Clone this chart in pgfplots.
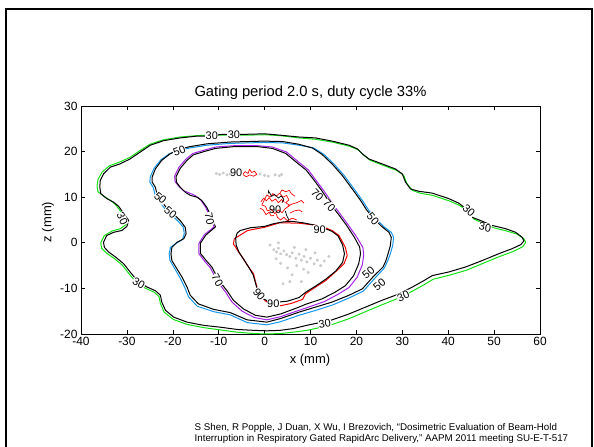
\documentclass[border=0pt]{standalone}
\usepackage{fontspec}
\setmainfont{Liberation Sans}
\usepackage{pgfplots}
\pgfplotsset{compat=1.18}
\definecolor{mgreen}{RGB}{20,225,20}
\definecolor{mblue}{RGB}{20,150,235}
\definecolor{mpurple}{RGB}{165,35,230}
\definecolor{mred}{RGB}{245,0,0}
\definecolor{mdot}{RGB}{205,205,205}
\begin{document}
\begin{tikzpicture}
\path[use as bounding box] (0bp,0bp) rectangle (594bp,447bp);
\draw[line width=2.2bp] (6bp,-5bp) -- (6bp,438bp) -- (592bp,438bp) -- (592bp,-5bp);
\begin{axis}[
  at={(81bp,113bp)}, anchor=south west,
  scale only axis, width=459bp, height=228bp,
  xmin=-40,xmax=60,ymin=-20,ymax=30,
  xtick={-40,-30,...,60}, ytick={-20,-10,...,30},
  tick align=inside, major tick length=4bp,
  tick style={black, line width=0.6bp},
  axis line style={line width=0.8bp},
  ticklabel style={font=\fontsize{12}{14}\selectfont},
  /pgf/number format/assume math mode=true,
  every axis plot/.append style={line width=1bp, line join=round},
  clip=false,
]
% gray dots
\addplot[only marks, mark=*, mark size=1.1bp, color=mdot, mark options={draw=mdot, fill=mdot}] coordinates {
(-10.5,15.2)(-9.8,15.0)(-9.0,15.3)(-8.2,14.9)(-7.5,15.1)(-1.0,15.1)(0.0,14.8)(0.8,14.6)(2.3,14.9)(3.2,14.7)(3.7,15.0)
(2.0,-1.5)(2.6,-2.0)(3.0,-1.2)(3.5,-2.4)(4.2,-1.8)(4.8,-2.6)(5.5,-3.0)(6.0,-2.2)(6.8,-3.4)(7.5,-2.5)(8.0,-3.8)(8.6,-3.0)
(9.2,-4.2)(10.0,-3.4)(10.8,-4.6)(11.5,-3.8)(12.2,-5.0)(13.0,-4.0)(7.0,-5.0)(8.5,-5.8)(9.5,-6.5)(5.0,-5.5)(3.5,-4.5)
(2.5,-3.5)(6.0,-7.0)(4.0,-9.0)(14.0,-3.0)(1.2,-0.5)(3.0,0.0)(6.5,-1.0)(9.0,-1.5)(11.0,-2.2)(8.0,-8.5)(5.5,-8.5)};
% ---- 30 green
\addplot[mgreen] coordinates {
(-12.9,23.6)(-8.9,23.6)(-3.9,23.6)(0.0,23.7)(3.4,23.5)(7.5,23.0)(11.1,22.7)(14.7,22.1)(18.4,21.2)(20.4,20.4)(21.6,19.2)
(23.0,18.1)(25.8,17.0)(28.7,15.9)(30.3,14.8)(31.0,13.0)(32.2,11.5)(33.8,10.9)(36.6,10.4)(40.2,9.2)(42.5,8.2)(44.2,7.0)
(45.6,5.2)(47.3,4.4)(49.9,3.3)(52.7,2.6)(55.0,1.9)(56.5,0.9)(56.9,0.1)(56.2,-0.9)(54.2,-1.9)(51.2,-3.0)(47.6,-4.5)
(44.0,-6.0)(40.3,-7.1)(36.7,-8.0)(34.9,-9.1)(32.4,-10.5)(29.5,-12.0)(25.8,-13.5)(22.2,-15.0)(18.5,-16.6)(14.8,-17.9)
(11.1,-18.8)(9.2,-19.2)(6.3,-19.6)(3.4,-19.9)(0.5,-20.0)(-2.4,-19.9)(-6.0,-19.6)(-9.7,-19.1)(-13.3,-18.6)(-16.9,-17.9)
(-19.9,-16.8)(-21.9,-15.2)(-22.7,-13.3)(-23.0,-11.8)(-24.1,-10.8)(-25.9,-10.0)(-27.8,-8.9)(-29.6,-6.7)(-31.0,-4.9)
(-32.8,-3.4)(-34.4,-2.3)(-35.5,-1.2)(-35.7,0.0)(-34.9,1.6)(-33.2,2.6)(-31.4,3.1)(-30.1,4.1)(-30.0,5.0)(-30.9,6.2)
(-32.3,8.2)(-33.4,9.2)(-35.0,10.2)(-36.3,11.2)(-36.5,12.4)(-36.3,13.9)(-35.4,15.5)(-33.8,16.9)(-31.6,17.7)(-29.4,18.7)
(-27.2,20.2)(-25.0,21.6)(-22.0,22.6)(-18.4,23.2)(-14.7,23.5)(-12.9,23.6)};
% ---- 50 blue
\addplot[mblue] coordinates {
(-16.2,20.8)(-12.6,21.4)(-7.5,21.8)(-0.2,22.0)(4.0,21.9)(7.5,21.4)(10.7,20.8)(12.9,19.4)(15.1,17.3)(17.3,14.8)(19.5,11.8)
(21.3,9.3)(22.7,7.1)(24.2,5.3)(25.9,3.6)(27.6,2.3)(28.1,1.2)(27.9,-0.6)(27.4,-2.4)(26.8,-4.0)(26.1,-5.5)(23.8,-8.0)
(21.5,-10.6)(18.6,-12.0)(14.9,-13.6)(11.2,-14.8)(7.5,-15.9)(3.5,-17.3)(0.5,-18.0)(-3.8,-17.5)(-7.5,-15.8)(-11.1,-15.1)
(-14.7,-13.9)(-16.6,-11.8)(-17.3,-10.0)(-18.4,-7.7)(-19.5,-5.8)(-20.6,-3.9)(-20.8,-2.4)(-20.5,-1.0)(-19.4,-0.2)
(-17.9,0.7)(-17.5,2.0)(-17.7,3.4)(-18.8,4.7)(-19.9,5.8)(-21.3,6.9)(-22.8,8.9)(-23.8,10.4)(-24.3,12.2)(-25.0,13.3)
(-24.9,14.5)(-24.1,16.3)(-22.6,18.2)(-20.8,19.5)(-18.8,20.3)(-16.2,20.8)};
% ---- 70 purple
\addplot[mpurple] coordinates {
(-13.2,20.3)(-10.7,21.0)(-6.6,21.3)(-1.6,21.3)(1.7,21.0)(4.8,19.9)(7.3,17.8)(9.5,16.0)(11.2,13.7)(12.9,11.4)(15.0,8.3)
(16.7,6.0)(18.3,3.8)(20.1,1.2)(21.4,-1.0)(21.6,-2.6)(21.3,-4.8)(20.2,-7.5)(18.4,-9.8)(16.0,-11.3)(13.0,-12.9)(9.3,-14.2)
(7.5,-14.8)(3.5,-16.2)(0.5,-16.9)(-2.2,-16.4)(-4.9,-15.0)(-7.1,-13.0)(-8.5,-10.8)(-10.3,-8.4)(-11.8,-5.5)(-13.1,-4.0)
(-14.3,-2.4)(-14.3,-0.1)(-13.1,1.8)(-11.0,3.5)(-11.8,5.5)(-12.9,7.9)(-14.0,9.5)(-15.2,10.4)(-16.6,11.0)(-17.6,11.4)
(-18.7,12.4)(-19.5,13.4)(-19.6,14.6)(-18.7,16.5)(-17.1,18.4)(-15.6,19.6)(-13.2,20.3)};
% ---- 90 red
\addplot[mred] coordinates {
(-6.6,0.9)(-6.8,-0.3)(-6.4,-0.8)(-5.7,-2.0)(-4.6,-3.5)(-3.5,-5.3)(-2.4,-6.8)(-2.0,-8.5)(-1.7,-9.5)(-1.2,-11.0)(0.0,-12.6)
(1.7,-13.8)(3.5,-13.8)(5.8,-13.3)(8.3,-12.4)(8.9,-11.2)(11.1,-9.7)(13.3,-8.3)(15.4,-6.4)(17.3,-4.6)(18.0,-2.8)(17.6,-1.0)
(16.2,1.6)(14.7,2.7)(12.5,3.6)(10.8,3.9)(7.5,4.3)(3.3,4.4)(0.0,3.4)(-3.7,2.7)(-5.3,1.7)(-6.6,0.9)};
\addplot[mred, line width=0.7bp] coordinates {
(-4.8,15.0)(-4.2,15.6)(-3.6,15.2)(-3.3,16.1)(-2.8,15.4)(-2.2,15.7)(-1.7,15.0)(-2.4,14.6)(-3.2,14.9)(-4.0,14.5)(-4.8,15.0)};
\addplot[mred, line width=0.7bp] coordinates {
(0.0,9.5)(0.5,10.5)(1.2,10.0)(1.8,10.8)(2.5,10.2)(3.3,10.9)(4.0,10.0)(4.8,10.4)(5.3,9.4)(4.6,8.8)(5.5,8.2)(4.5,7.5)
(3.8,6.6)(3.0,7.2)(2.2,6.4)(1.5,7.3)(0.6,7.0)(0.2,8.0)(-0.6,8.3)(0.0,9.5)};
\addplot[mred, line width=0.7bp] coordinates {(-0.8,9.0)(-0.2,9.8)(0.4,9.2)(1.0,9.9)(1.6,9.1)(2.4,9.6)(3.0,8.8)(3.7,9.5)(4.3,8.9)};
\addplot[mred, line width=0.7bp] coordinates {(-1.0,7.6)(-0.3,7.2)(0.3,6.2)(1.0,6.7)(1.4,5.9)(2.0,6.0)};
\addplot[mred, line width=0.7bp] coordinates {(5.0,8.0)(6.0,8.5)(7.0,8.8)(8.0,9.3)(8.6,8.7)};
\addplot[mred, line width=0.7bp] coordinates {(5.5,6.5)(6.5,7.0)(7.5,7.2)(8.2,6.8)};
\addplot[mred, line width=0.7bp] coordinates {(3.4,11.0)(3.8,11.6)(4.6,11.2)(5.4,11.5)(5.8,10.8)(6.6,10.2)};
\addplot[mred, line width=0.7bp] coordinates {(2.5,6.4)(2.8,5.6)(3.5,5.0)(4.2,5.6)(5.0,4.8)(6.0,5.4)(7.0,5.0)};
% ---- black contours
\addplot[black] coordinates {
(-12.9,23.4)(-8.9,23.8)(-3.9,23.8)(0.0,23.9)(3.4,23.6)(7.5,23.2)(11.1,23.0)(14.7,22.3)(18.4,21.4)(20.2,20.6)(21.3,19.5)
(22.7,18.4)(25.6,17.3)(28.5,16.2)(30.0,15.1)(30.7,13.3)(31.8,11.8)(33.6,11.3)(36.5,10.9)(40.1,9.7)(42.3,8.7)(43.8,7.5)
(45.2,5.6)(47.0,4.9)(49.6,3.8)(52.5,3.1)(54.7,2.3)(56.1,1.2)(56.5,0.4)(55.8,-0.4)(53.9,-1.3)(51.0,-2.4)(47.4,-3.9)
(43.8,-5.3)(40.1,-6.4)(36.5,-7.2)(34.7,-8.3)(32.2,-9.7)(29.3,-11.2)(25.6,-12.6)(22.0,-14.1)(18.4,-15.6)(14.7,-16.9)
(11.1,-17.7)(9.2,-18.1)(6.3,-18.8)(3.4,-19.2)(0.5,-19.3)(-2.4,-19.2)(-6.0,-19.0)(-9.7,-18.5)(-13.3,-18.1)(-16.9,-17.4)
(-19.8,-16.3)(-21.6,-14.8)(-22.4,-13.0)(-22.7,-11.5)(-23.8,-10.5)(-25.6,-9.7)(-27.5,-8.6)(-29.3,-6.4)(-30.7,-4.6)
(-32.5,-3.1)(-34.0,-2.0)(-34.9,-1.0)(-35.1,0.1)(-34.4,1.6)(-32.9,2.3)(-31.1,2.7)(-30.0,3.6)(-29.6,4.9)(-30.4,6.0)
(-31.8,8.0)(-32.9,8.9)(-34.4,9.7)(-35.7,10.8)(-35.9,12.2)(-35.8,13.7)(-35.1,15.1)(-33.6,16.6)(-31.5,17.3)(-29.3,18.4)
(-27.1,19.9)(-24.9,21.4)(-22.0,22.4)(-18.4,23.0)(-14.7,23.4)(-12.9,23.4)};
\addplot[black] coordinates {
(-16.2,21.1)(-12.6,21.7)(-7.5,22.1)(-0.2,22.3)(4.0,22.2)(7.5,21.6)(10.4,20.8)(12.5,19.4)(14.7,17.3)(16.9,14.8)(19.1,11.8)
(20.9,9.3)(22.3,7.1)(23.8,5.3)(25.5,3.6)(27.1,2.3)(27.6,1.2)(27.4,-0.6)(26.9,-2.4)(26.4,-4.0)(25.8,-5.3)(23.6,-7.5)
(21.3,-10.1)(18.4,-11.5)(14.7,-13.0)(11.1,-14.1)(7.5,-15.2)(3.5,-16.6)(0.5,-17.4)(-3.8,-16.9)(-7.5,-15.3)(-11.1,-14.6)
(-14.4,-13.4)(-16.2,-11.5)(-16.9,-9.7)(-18.0,-7.5)(-19.1,-5.7)(-20.2,-3.9)(-20.4,-2.4)(-20.2,-1.0)(-19.1,0.1)(-17.6,0.9)
(-17.1,2.0)(-17.3,3.4)(-18.4,4.9)(-19.5,6.0)(-20.9,7.1)(-22.4,9.0)(-23.4,10.5)(-23.8,12.2)(-24.5,13.3)(-24.5,14.4)
(-23.8,16.2)(-22.4,18.1)(-20.6,19.5)(-18.7,20.5)(-16.2,21.1)};
\addplot[black] coordinates {
(-13.2,20.0)(-10.7,20.7)(-6.6,21.1)(-1.6,21.1)(1.7,20.7)(4.6,19.6)(7.0,17.6)(9.1,15.9)(10.8,13.7)(12.4,11.5)(14.5,8.3)
(16.2,6.1)(17.8,3.9)(19.5,1.3)(20.7,-0.9)(20.9,-2.4)(20.5,-4.6)(19.4,-7.2)(17.6,-9.4)(15.4,-10.8)(12.5,-12.3)(8.9,-13.5)
(7.5,-14.1)(3.5,-15.6)(0.5,-16.3)(-2.0,-15.9)(-4.6,-14.5)(-6.8,-12.6)(-8.2,-10.5)(-10.0,-8.2)(-11.5,-5.3)(-12.8,-3.8)
(-14.0,-2.3)(-14.0,-0.1)(-12.8,1.7)(-10.7,3.5)(-11.5,5.5)(-12.6,7.8)(-13.7,9.3)(-14.7,10.0)(-16.2,10.4)(-17.3,11.1)
(-18.4,12.2)(-19.2,13.3)(-19.3,14.5)(-18.4,16.3)(-16.9,18.1)(-15.5,19.3)(-13.2,20.0)};
\addplot[black] coordinates {
(-6.0,2.1)(-5.3,2.7)(-3.1,3.3)(0.0,3.6)(2.0,4.2)(4.2,4.6)(6.0,4.7)(8.3,4.4)(10.8,3.9)(12.0,3.1)(13.5,3.0)(14.7,2.5)
(16.0,1.5)(17.0,-0.5)(17.4,-2.4)(17.0,-4.3)(15.5,-6.2)(13.3,-8.0)(11.1,-9.5)(9.0,-10.8)(7.5,-12.0)(5.0,-12.8)(3.0,-13.0)
(1.7,-13.2)(-0.5,-12.2)(-1.2,-11.3)(-1.8,-9.5)(-2.5,-7.0)(-3.5,-5.3)(-4.6,-3.6)(-5.6,-2.0)(-6.2,-0.5)(-6.3,1.0)(-6.0,2.1)};
\addplot[black, line width=0.7bp] coordinates {(1.0,11.2)(1.5,10.2)(2.2,10.6)(3.0,9.8)(3.6,10.3)(4.2,9.5)(3.8,8.8)};
\addplot[black, line width=0.7bp] coordinates {(0.8,11.6)(0.9,10.8)};
\addplot[black, line width=0.7bp] coordinates {(4.5,7.0)(4.8,6.0)(5.2,5.2)(5.0,4.6)};
% ---- labels
\tikzset{cl/.style={font=\fontsize{11}{12}\selectfont, fill=white, inner sep=0.4pt}}
\node[cl] at (axis cs:-11.5,23.4) {30};
\node[cl] at (axis cs:-6.7,23.6) {30};
\node[cl, rotate=20] at (axis cs:-18.6,20.2) {50};
\node[cl, rotate=-65] at (axis cs:-31.0,5.3) {30};
\node[cl, rotate=-40] at (axis cs:-22.7,9.8) {50};
\node[cl, rotate=-40] at (axis cs:-20.5,6.7) {50};
\node[cl, rotate=-80] at (axis cs:-12.0,5.3) {70};
\node[cl, rotate=-30] at (axis cs:-27.4,-8.8) {30};
\node[cl, rotate=-60] at (axis cs:-10.3,-8.2) {70};
\node[cl, rotate=-50] at (axis cs:-1.2,-11.3) {90};
\node[cl] at (axis cs:1.9,-13.3) {90};
\node[cl, rotate=10] at (axis cs:13.1,-17.7) {30};
\node[cl, rotate=25] at (axis cs:30.2,-11.7) {30};
\node[cl, rotate=40] at (axis cs:22.6,-6.5) {50};
\node[cl, rotate=40] at (axis cs:25.0,-9.1) {50};
\node[cl, rotate=-50] at (axis cs:23.6,5.3) {50};
\node[cl, rotate=-45] at (axis cs:11.5,10.5) {70};
\node[cl, rotate=-45] at (axis cs:14.1,8.2) {70};
\node[cl] at (axis cs:12.0,2.9) {90};
\node[cl, rotate=-40] at (axis cs:44.5,7.0) {30};
\node[cl, rotate=-10] at (axis cs:48.0,3.4) {30};
\node[cl] at (axis cs:-6.2,15.3) {90};
\node[cl, fill=none] at (axis cs:2.3,7.3) {90};
\end{axis}
\node[font=\fontsize{14.8}{17}\selectfont, anchor=base] at (310.5bp,350bp) {Gating period 2.0 s, duty cycle 33\%};
\node[font=\fontsize{13}{15}\selectfont] at (310bp,87bp) {x (mm)};
\node[font=\fontsize{13}{15}\selectfont, rotate=90] at (48bp,225bp) {z (mm)};
\node[font=\fontsize{9.8}{11}\selectfont, anchor=base west, inner sep=0pt] at (194.5bp,17bp) {S Shen, R Popple, J Duan, X Wu, I Brezovich, “Dosimetric Evaluation of Beam-Hold};
\node[font=\fontsize{9.8}{11}\selectfont, anchor=base west, inner sep=0pt] at (194.5bp,6bp) {Interruption in Respiratory Gated RapidArc Delivery,” AAPM 2011 meeting SU-E-T-517};
\end{tikzpicture}
\end{document}
